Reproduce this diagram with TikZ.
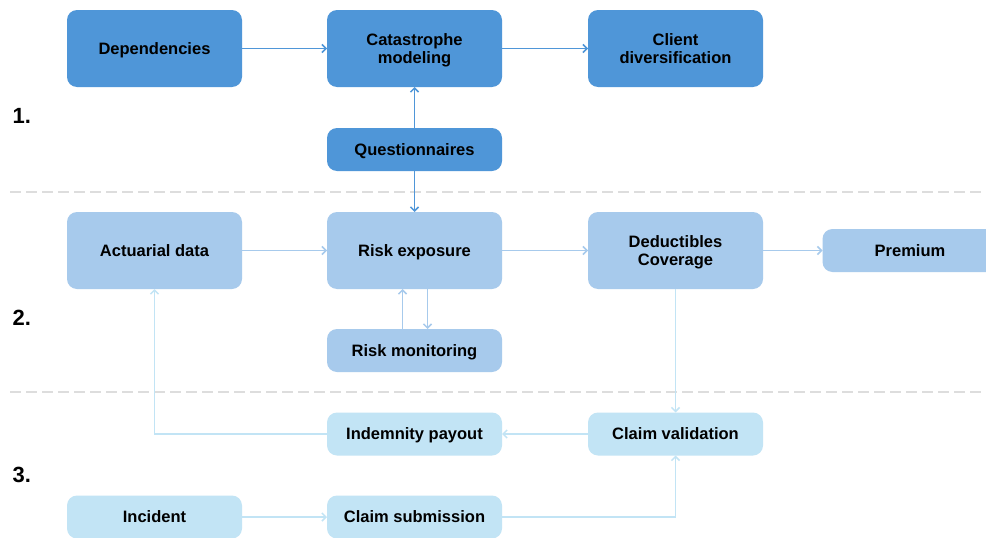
\documentclass[tikz,border=0pt]{standalone}
\usepackage{fontspec}
\setmainfont{Liberation Sans}
\usetikzlibrary{arrows.meta}

\definecolor{darkblue}{HTML}{4F96D8}
\definecolor{midblue}{HTML}{A7CAEC}
\definecolor{lightblue}{HTML}{C2E4F5}
\definecolor{sepgray}{HTML}{DDDDDD}

\tikzset{
  box/.style={rounded corners=10pt, minimum width=175pt, minimum height=77pt,
    align=center, font=\fontsize{16.5}{18}\selectfont\bfseries, inner sep=0pt, outer sep=0pt,
    text depth=0pt},
  flat/.style={box, minimum height=43pt},
  link/.style={line width=1.5pt, -{Straight Barb[length=4pt,width=8pt]}},
  stage/.style={font=\fontsize{22}{24}\selectfont\bfseries, anchor=west},
}

\begin{document}
\begin{tikzpicture}[x=1pt,y=-1pt]
                \clip (0,0) rectangle (986,538);
                \fill[white] (0,0) rectangle (986,538);

                % separators
                \draw[sepgray, line width=2pt, dash pattern=on 11pt off 5pt] (10,192) -- (986,192);
                \draw[sepgray, line width=2pt, dash pattern=on 11pt off 5pt] (10,392) -- (986,392);

                \node[stage] (s1) at (9,116) {1.};
                \node[stage] (s2) at (9,318) {2.};
                \node[stage] (s3) at (9,475) {3.};

                % stage 1
                \node[box, fill=darkblue] (dep) at (154.5,48.5) {Dependencies};
                \node[box, fill=darkblue] (cat) at (414.5,48.5) {Catastrophe\\modeling};
                \node[box, fill=darkblue] (cli) at (675.5,48.5) {Client\\diversification};
                \node[flat, fill=darkblue] (que) at (414.5,149.5) {Questionnaires};

                % stage 2
                \node[box, fill=midblue] (act) at (154.5,250.5) {Actuarial data};
                \node[box, fill=midblue] (risk) at (414.5,250.5) {Risk exposure};
                \node[box, fill=midblue] (ded) at (675.5,250.5) {Deductibles\\Coverage};
                \node[flat, fill=midblue] (prem) at (910,250.5) {Premium};
                \node[flat, fill=midblue] (mon) at (414.5,350.5) {Risk monitoring};

                % stage 3
                \node[flat, fill=lightblue] (ind) at (414.5,434) {Indemnity payout};
                \node[flat, fill=lightblue] (val) at (675.5,434) {Claim validation};
                \node[flat, fill=lightblue] (inc) at (154.5,517) {Incident};
                \node[flat, fill=lightblue] (sub) at (414.5,517) {Claim submission};

                \draw[link, darkblue] (dep) -- (cat);
                \draw[link, darkblue] (cat) -- (cli);
                \draw[link, darkblue] (que) -- (cat);
                \draw[link, darkblue] (que) -- (risk);

                \draw[link, midblue] (act) -- (risk);
                \draw[link, midblue] (risk) -- (ded);
                \draw[link, midblue] (ded) -- (prem);
                \draw[link, midblue] ([xshift=-12pt]mon.north) -- ([xshift=-12pt]risk.south);
                \draw[link, midblue] ([xshift=13pt]risk.south) -- ([xshift=13pt]mon.north);

                \draw[link, lightblue] (ded) -- (val);
                \draw[link, lightblue] (val) -- (ind);
                \draw[link, lightblue] (ind.west) -| (act.south);
                \draw[link, lightblue] (inc) -- (sub);
                \draw[link, lightblue] (sub.east) -| (val.south);
\end{tikzpicture}
\end{document}
